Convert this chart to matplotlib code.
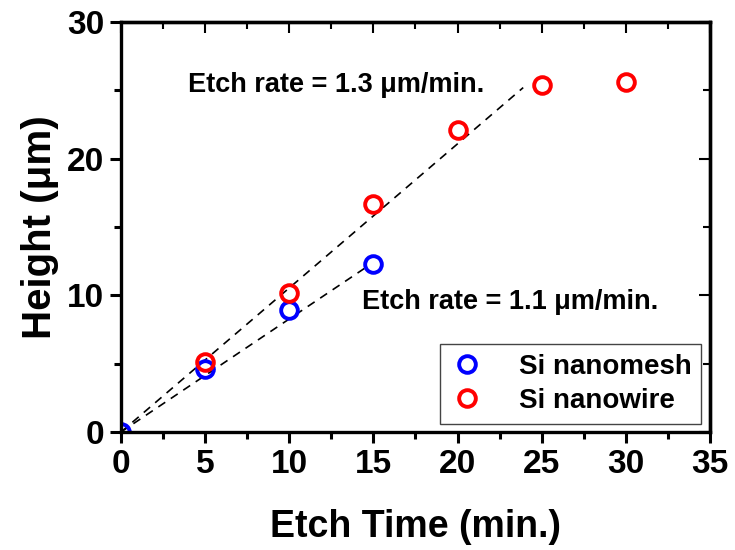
import matplotlib
matplotlib.use('Agg')
import matplotlib.pyplot as plt
import numpy as np

# data
mesh_time = [0, 5, 10, 15]
mesh_height = [0, 4.6, 8.9, 12.3]
wire_time = [5, 10, 15, 20, 25, 30]
wire_height = [5.1, 10.2, 16.7, 22.1, 25.4, 25.6]

# dashed fit lines (end points)
fit_wire_x = [0, 23.9]
fit_wire_y = [0, 25.2]
fit_mesh_x = [0, 14.5]
fit_mesh_y = [0, 12.0]

plt.rcParams['font.family'] = ['Liberation Sans', 'DejaVu Sans']
plt.rcParams['font.weight'] = 'bold'

fig = plt.figure(figsize=(7.35, 5.5), dpi=100)
ax = fig.add_axes([0.1646, 0.2145, 0.8014, 0.7455])

ax.plot(fit_wire_x, fit_wire_y, color='black', linestyle=(0, (5, 4)), linewidth=1.2)
ax.plot(fit_mesh_x, fit_mesh_y, color='black', linestyle=(0, (5, 4)), linewidth=1.2)

ax.plot(mesh_time, mesh_height, linestyle='none', marker='o', markersize=12,
        markerfacecolor='none', markeredgecolor='#0000ff', markeredgewidth=2.8,
        label='Si nanomesh')
ax.plot(wire_time, wire_height, linestyle='none', marker='o', markersize=12,
        markerfacecolor='none', markeredgecolor='#ff0000', markeredgewidth=2.8,
        label='Si nanowire')

ax.text(4.0, 25.4, 'Etch rate = 1.3 \u03bcm/min.', fontsize=19.5, fontweight='bold',
        va='center', ha='left')
ax.text(14.3, 9.5, 'Etch rate = 1.1 \u03bcm/min.', fontsize=19.5, fontweight='bold',
        va='center', ha='left')

ax.set_xlim(0, 35)
ax.set_ylim(0, 30)
ax.set_xticks(np.arange(0, 36, 5))
ax.set_xticks(np.arange(0, 36, 2.5), minor=True)
ax.set_yticks(np.arange(0, 31, 10))
ax.set_yticks(np.arange(0, 31, 5), minor=True)

ax.tick_params(which='major', direction='out', length=8, width=2.2, labelsize=24, pad=4)
ax.tick_params(which='minor', direction='out', length=5, width=2.2)
for lab in ax.get_xticklabels() + ax.get_yticklabels():
    lab.set_fontweight('bold')

for sp in ax.spines.values():
    sp.set_linewidth(2.4)

# inward ticks on top and right
top = ax.secondary_xaxis('top')
top.set_xticks(np.arange(0, 36, 5))
top.set_xticks(np.arange(0, 36, 2.5), minor=True)
top.tick_params(which='major', direction='in', length=8, width=1.5, labeltop=False)
top.tick_params(which='minor', direction='in', length=5, width=1.5)
top.spines['top'].set_linewidth(2.4)
right = ax.secondary_yaxis('right')
right.set_yticks(np.arange(0, 31, 10))
right.set_yticks(np.arange(0, 31, 5), minor=True)
right.tick_params(which='major', direction='in', length=8, width=1.5, labelright=False)
right.tick_params(which='minor', direction='in', length=5, width=1.5)
right.spines['right'].set_linewidth(2.4)

ax.set_xlabel('Etch Time (min.)', fontsize=27, fontweight='bold', labelpad=21)
ax.set_ylabel('Height (\u03bcm)', fontsize=29, fontweight='bold', labelpad=6)

leg = ax.legend(loc='lower right', bbox_to_anchor=(0.985, 0.02), fontsize=20,
                frameon=True, fancybox=False, edgecolor='#444444', framealpha=1,
                handletextpad=1.2, borderpad=0.35, labelspacing=0.3,
                handlelength=1.3, borderaxespad=0.0)
leg.get_frame().set_linewidth(1.0)
for t in leg.get_texts():
    t.set_fontweight('bold')

fig.savefig('out.png', dpi=100)
